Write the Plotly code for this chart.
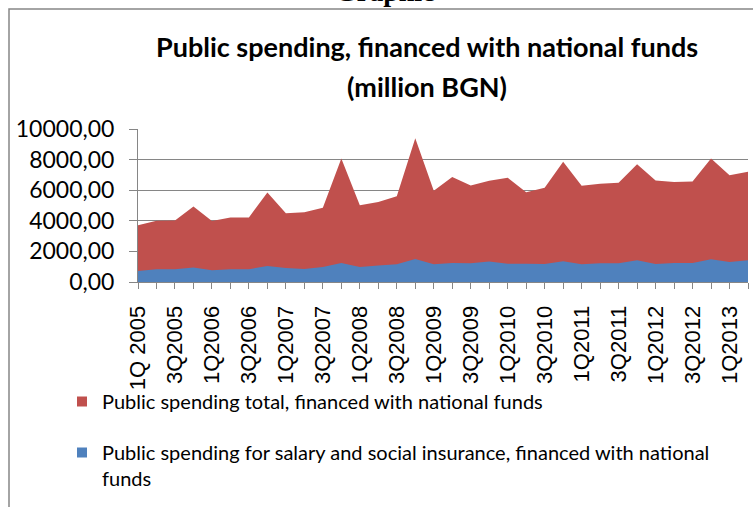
import plotly.graph_objects as go

quarters = [
    "1Q 2005", "2Q2005", "3Q2005", "4Q2005",
    "1Q2006", "2Q2006", "3Q2006", "4Q2006",
    "1Q2007", "2Q2007", "3Q2007", "4Q2007",
    "1Q2008", "2Q2008", "3Q2008", "4Q2008",
    "1Q2009", "2Q2009", "3Q2009", "4Q2009",
    "1Q2010", "2Q2010", "3Q2010", "4Q2010",
    "1Q2011", "2Q2011", "3Q2011", "4Q2011",
    "1Q2012", "2Q2012", "3Q2012", "4Q2012",
    "1Q2013", "2Q2013",
]
tick_labels = [q if i % 2 == 0 else "" for i, q in enumerate(quarters)]

total = [3710, 4000, 4020, 4940, 3980, 4215, 4220, 5850, 4500, 4565, 4850, 8080,
         5020, 5230, 5610, 9390, 5960, 6860, 6310, 6610, 6810, 5870, 6160, 7860,
         6290, 6420, 6480, 7690, 6640, 6530, 6575, 8080, 6970, 7200]
salary = [720, 830, 830, 940, 770, 830, 830, 1050, 920, 850, 980, 1245,
          980, 1080, 1160, 1510, 1160, 1245, 1225, 1335, 1200, 1200, 1180, 1355,
          1160, 1225, 1225, 1420, 1180, 1245, 1245, 1485, 1310, 1420]

name_total = "Public spending total, financed with national funds"
name_salary = "Public spending for salary and social insurance, financed with national<br>funds"

RED = "#C0504D"
BLUE = "#4F81BD"
GRID = "#868686"

W, H = 753, 507
L, R, T, B = 138, 5, 129, 225
PW = W - L - R
PH = H - T - B


def px(x):
    return (x - L) / PW


def py(y):
    return (H - B - y) / PH


fig = go.Figure()
fig.add_trace(go.Scatter(x=quarters, y=total, mode="none", fill="tozeroy",
                         fillcolor=RED, showlegend=False, legendgroup="t",
                         name=name_total))
fig.add_trace(go.Scatter(x=quarters, y=salary, mode="none", fill="tozeroy",
                         fillcolor=BLUE, showlegend=False, legendgroup="s",
                         name=name_salary))
# legend entries
fig.add_trace(go.Scatter(x=[None], y=[None], mode="markers",
                         marker=dict(symbol="square", size=10, color=RED),
                         name=name_total, legendgroup="t", legend="legend"))
fig.add_trace(go.Scatter(x=[None], y=[None], mode="markers",
                         marker=dict(symbol="square", size=10, color=BLUE),
                         name=name_salary, legendgroup="s", legend="legend2"))

legend_font = dict(family="Lato", size=20, color="#000000")

fig.update_layout(
    width=W, height=H,
    margin=dict(l=L, r=R, t=T, b=B, pad=0),
    paper_bgcolor="white", plot_bgcolor="white",
    separators=",.",
    showlegend=True,
    legend=dict(x=px(62), y=py(382), xanchor="left", yanchor="top",
                font=legend_font, bgcolor="rgba(0,0,0,0)", valign="top"),
    legend2=dict(x=px(62), y=py(433), xanchor="left", yanchor="top",
                 font=legend_font, bgcolor="rgba(0,0,0,0)", valign="top"),
    xaxis=dict(
        type="category", range=[0, len(quarters) - 1],
        tickmode="array", tickvals=quarters, ticktext=tick_labels,
        tickangle=-90, ticks="outside", ticklen=6, tickcolor=GRID, tickwidth=1,
        showline=True, linecolor=GRID, linewidth=1, showgrid=False,
        tickfont=dict(family="Liberation Sans", size=22, color="#000000"),
        ticklabelstandoff=8,
    ),
    yaxis=dict(
        range=[0, 10000], dtick=2000, tickformat=".2f",
        ticks="outside", ticklen=8, tickcolor=GRID,
        showline=True, linecolor=GRID, linewidth=1,
        showgrid=True, gridcolor=GRID, gridwidth=1, zeroline=False,
        tickfont=dict(family="Lato", size=23, color="#000000"),
        ticklabelstandoff=10,
    ),
    shapes=[dict(type="rect", xref="paper", yref="paper",
                 x0=px(9), x1=px(770), y0=py(530), y1=py(9),
                 line=dict(color=GRID, width=1.5), fillcolor="rgba(0,0,0,0)",
                 layer="below")],
    annotations=[
        dict(text="<b>Graphic</b>", xref="paper", yref="paper",
             x=px(385), y=py(9), xanchor="center", yanchor="bottom",
             showarrow=False,
             font=dict(family="Liberation Serif", size=28, color="#000000")),
        dict(text="<b>Public spending, financed with national funds</b>",
             xref="paper", yref="paper", x=px(427), y=py(47),
             xanchor="center", yanchor="middle", showarrow=False,
             font=dict(family="Lato", size=27, color="#000000")),
        dict(text="<b>(million BGN)</b>",
             xref="paper", yref="paper", x=px(427), y=py(86),
             xanchor="center", yanchor="middle", showarrow=False,
             font=dict(family="Lato", size=27, color="#000000")),
    ],
)

fig.write_html("out.html")
